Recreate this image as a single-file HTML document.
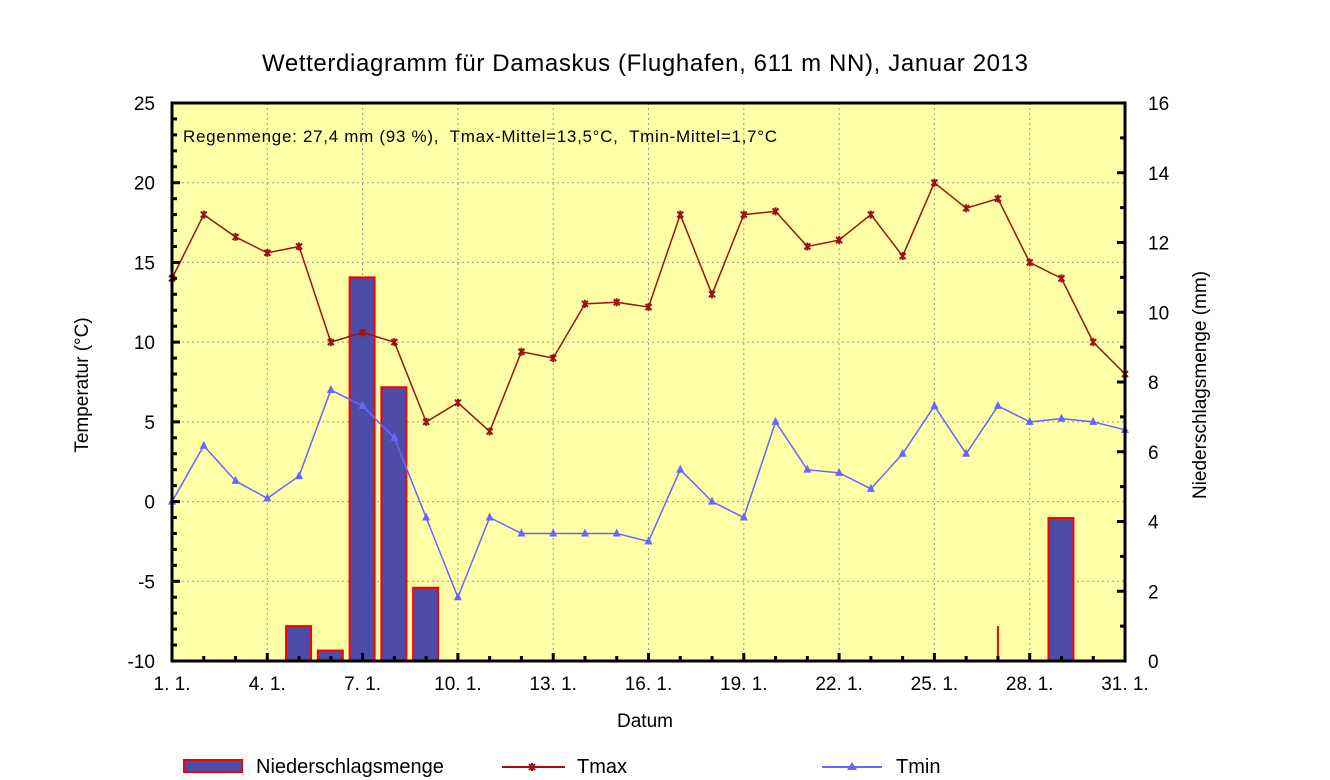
<!DOCTYPE html>
<html><head><meta charset="utf-8"><style>
body{margin:0;background:#fff}
svg{display:block;font-family:"Liberation Sans",sans-serif}
</style></head><body>
<svg width="1330" height="780" xmlns="http://www.w3.org/2000/svg" id="s">
<rect x="172" y="103" width="953" height="558" fill="#ffffa8"/>
<g id="grid" stroke="#999" stroke-dasharray="2,3" stroke-width="1"></g>
<g id="bars"></g>
<polyline id="tmax" fill="none" stroke="#a01010" stroke-width="1.5"/>
<polyline id="tmin" fill="none" stroke="#6666ff" stroke-width="1.5"/>
<g id="marks"></g>
<rect x="172" y="103" width="953" height="558" fill="none" stroke="#000" stroke-width="3"/>
<g id="ticks" stroke="#000" stroke-width="3"></g>
<g id="labels" font-size="19" fill="#000"></g>
<text x="645" y="71" font-size="24" text-anchor="middle" textLength="766">Wetterdiagramm für Damaskus (Flughafen, 611 m NN), Januar 2013</text>
<text x="183" y="142" font-size="17" xml:space="preserve" style="white-space:pre" textLength="594">Regenmenge: 27,4 mm (93 %),  Tmax-Mittel=13,5°C,  Tmin-Mittel=1,7°C</text>
<text x="645" y="727" font-size="19" text-anchor="middle">Datum</text>
<text transform="translate(88,385) rotate(-90)" font-size="19" text-anchor="middle">Temperatur (°C)</text>
<text transform="translate(1206,385) rotate(-90)" font-size="19" text-anchor="middle">Niederschlagsmenge (mm)</text>
<rect x="184" y="760" width="58" height="12" fill="#4d4da8" stroke="#f00" stroke-width="2"/>
<text x="256" y="773" font-size="20">Niederschlagsmenge</text>
<line x1="502" y1="767" x2="565" y2="767" stroke="#a01010" stroke-width="2"/>
<path d="M529,764L535,770M535,764L529,770M532,763L532,771" stroke="#a01010" stroke-width="2"/>
<text x="577" y="773" font-size="20">Tmax</text>
<line x1="822" y1="767" x2="882" y2="767" stroke="#6666ff" stroke-width="2"/>
<polygon points="852,762 857,770 847,770" fill="#6666ff"/>
<text x="896" y="773" font-size="20">Tmin</text>
</svg>
<script>
const NS="http://www.w3.org/2000/svg";
const X=d=>172+(d-1)*953/30, TY=t=>661-(t+10)*558/35, PY=p=>661-p*558/16;
function el(p,t,a){const e=document.createElementNS(NS,t);for(const k in a)e.setAttribute(k,a[k]);document.getElementById(p).appendChild(e);return e;}
for(let t=-5;t<25;t+=5)el("grid","line",{x1:172,x2:1125,y1:TY(t),y2:TY(t)});
for(let d=4;d<31;d+=3)el("grid","line",{x1:X(d),x2:X(d),y1:103,y2:661});
const P={5:1.0,6:0.3,7:11.0,8:7.85,9:2.1,29:4.1};
for(const d in P){el("bars","rect",{x:X(+d)-13,y:PY(P[d]),width:25,height:661-PY(P[d]),fill:"#4d4da8",stroke:"#f00","stroke-width":2});}
el("bars","line",{x1:X(27),x2:X(27),y1:PY(1),y2:661,stroke:"#f00","stroke-width":2});
const tmax=[14,18,16.6,15.6,16,10,10.6,10,5,6.2,4.4,9.4,9,12.4,12.5,12.2,18,13,18,18.2,16,16.4,18,15.4,20,18.4,19,15,14,10,8];
const tmin=[0,3.5,1.3,0.2,1.6,7,6,4,-1,-6,-1,-2,-2,-2,-2,-2.5,2,0,-1,5,2,1.8,0.8,3,6,3,6,5,5.2,5,4.5];
document.getElementById("tmax").setAttribute("points",tmax.map((v,i)=>X(i+1)+","+TY(v)).join(" "));
document.getElementById("tmin").setAttribute("points",tmin.map((v,i)=>X(i+1)+","+TY(v)).join(" "));
tmax.forEach((v,i)=>{const x=X(i+1),y=TY(v);el("marks","path",{d:`M${x-3},${y-3}L${x+3},${y+3}M${x+3},${y-3}L${x-3},${y+3}M${x},${y-4}L${x},${y+4}`,stroke:"#a01010","stroke-width":2});});
tmin.forEach((v,i)=>{const x=X(i+1),y=TY(v);el("marks","polygon",{points:`${x},${y-5} ${x+4},${y+3} ${x-4},${y+3}`,fill:"#6666ff"});});
for(let t=-10;t<=25;t++){const y=TY(t),L=t%5==0?8:5;el("ticks","line",{x1:172,x2:172+L,y1:y,y2:y});
 if(t%5==0){const e=el("labels","text",{x:155,y:y+7,"text-anchor":"end"});e.textContent=t;}}
for(let p=0;p<=16;p++){const y=PY(p),L=p%2==0?8:5;el("ticks","line",{x1:1125,x2:1125-L,y1:y,y2:y});
 if(p%2==0){const e=el("labels","text",{x:1148,y:y+7});e.textContent=p;}}
for(let d=1;d<=31;d++){const x=X(d),L=(d-1)%3==0?8:5;el("ticks","line",{x1:x,x2:x,y1:661,y2:661-L});
 if((d-1)%3==0){const e=el("labels","text",{x:x,y:690,"text-anchor":"middle"});e.textContent=d+". 1.";}}
</script>
</body></html>
